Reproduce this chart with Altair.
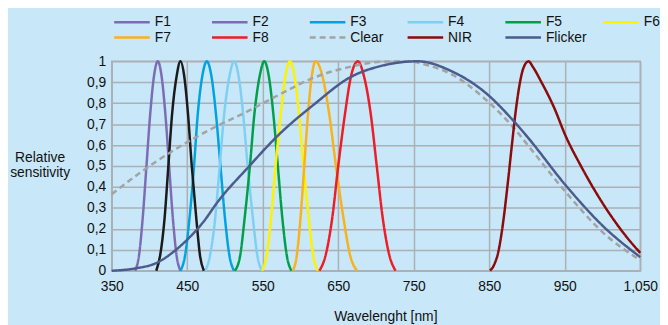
import altair as alt
import pandas as pd

# ---- data ----
series_names = ["F1", "F2", "F3", "F4", "F5", "F6", "F7", "F8", "Clear", "NIR", "Flicker"]
legend_colors = ["#7b6cb5", "#7b6cb5", "#00a3e0", "#7fcff4", "#00a04a", "#fff200",
                 "#f9b21b", "#ee1c25", "#a3a3a3", "#8b0a0a", "#4a5b8c"]
f2_line_color = "#1a1a1a"

band_profile = [0, 0.07, 0.25, 0.5, 0.75, 0.93, 1, 0.93, 0.75, 0.5, 0.25, 0.07, 0]

wl_f1 = [381, 386, 391, 396, 401, 406, 411, 416, 421, 426, 431, 436, 441]
wl_f2 = [409, 414, 420, 425, 430, 436, 441, 446, 451, 456, 462, 467, 472]
wl_f3 = [441, 447, 453, 459, 464, 470, 476, 482, 488, 494, 500, 506, 512]
wl_f4 = [474, 480, 487, 493, 499, 506, 512, 518, 524, 530, 537, 543, 549]
wl_f5 = [513, 520, 526, 533, 539, 546, 552, 558, 564, 570, 576, 582, 588]
wl_f6 = [549, 555, 561, 567, 574, 580, 586, 592, 598, 604, 611, 617, 623]
wl_f7 = [590, 595, 600, 605, 610, 615, 620, 629, 638, 647, 657, 666, 675]
wl_f8 = [625, 633, 642, 650, 659, 667, 676, 684, 693, 701, 709, 718, 726]

wl_nir = [851, 856, 862, 868, 874, 880, 885, 890, 895, 902, 908, 918.6, 936, 951, 971, 1001.5, 1027.6, 1050]
val_nir = [0, 0.025, 0.09, 0.22, 0.40, 0.60, 0.76, 0.885, 0.965, 1.0, 0.972, 0.904, 0.778, 0.645, 0.503, 0.315, 0.181, 0.085]

wl_flicker = [350, 381, 411, 433, 449, 472, 490, 531, 570, 620, 664, 707, 755, 801, 845, 884, 901, 951, 1001, 1050]
val_flicker = [0, 0.011, 0.04, 0.094, 0.145, 0.236, 0.327, 0.495, 0.645, 0.80, 0.92, 0.978, 1.0, 0.951, 0.85, 0.708, 0.637, 0.409, 0.212, 0.065]

wl_clear = [350, 389, 433, 483, 531, 570, 620, 664, 707, 740, 770, 801, 845, 884, 901, 951, 1001, 1050]
val_clear = [0.365, 0.472, 0.577, 0.679, 0.763, 0.837, 0.925, 0.972, 0.998, 1.0, 0.98, 0.936, 0.818, 0.676, 0.6, 0.377, 0.181, 0.05]

x_ticks = [350, 450, 550, 650, 750, 850, 950, 1050]
y_ticks = [0, 0.1, 0.2, 0.3, 0.4, 0.5, 0.6, 0.7, 0.8, 0.9, 1]

# ---- build table ----
rows = []
bands = {"F1": wl_f1, "F2": wl_f2, "F3": wl_f3, "F4": wl_f4, "F5": wl_f5,
         "F6": wl_f6, "F7": wl_f7, "F8": wl_f8}
for name, xs in bands.items():
    for x, v in zip(xs, band_profile):
        rows.append({"series": name, "wl": x, "val": v, "group": "band"})
for name, xs, vs in [("Clear", wl_clear, val_clear), ("NIR", wl_nir, val_nir),
                     ("Flicker", wl_flicker, val_flicker)]:
    for x, v in zip(xs, vs):
        rows.append({"series": name, "wl": x, "val": v, "group": "broad"})
df = pd.DataFrame(rows)

GRID = "#abb0b5"
FONT = "Liberation Sans"

legend = alt.Legend(
    title=None, orient="none", legendX=13.5, legendY=-46.5, direction="horizontal",
    columns=6, symbolType="M-4,0H4", symbolSize=81, symbolStrokeWidth=2.5,
    labelFontSize=14, labelFont=FONT, labelColor="#111111", gridAlign="all",
    columnPadding=11, rowPadding=1.5, labelOffset=16, padding=0,
)

dash_range = [[1, 0]] * 8 + [[6, 4]] + [[1, 0]] * 2

x_enc = alt.X("wl:Q", scale=alt.Scale(domain=[350, 1050], nice=False, zero=False),
              axis=alt.Axis(values=x_ticks, labelExpr="format(datum.value, ',')",
                            title="Wavelenght [nm]", labelFlush=False,
                            ticks=False, labelPadding=9, titlePadding=16,
                            titleX=277))
y_enc = alt.Y("val:Q", scale=alt.Scale(domain=[0, 1], nice=False),
              axis=alt.Axis(values=y_ticks, ticks=False, labelPadding=6,
                            labelExpr="replace(format(datum.value, '~g'), '.', ',')",
                            title=["Relative", "sensitivity"], titleAngle=0,
                            titleAlign="center", titleBaseline="middle",
                            titleX=-73, titleY=97))
color_enc = alt.Color("series:N", scale=alt.Scale(domain=series_names, range=legend_colors),
                      legend=legend)
dash_enc = alt.StrokeDash("series:N", scale=alt.Scale(domain=series_names, range=dash_range),
                          legend=legend)

base = alt.Chart(df)

bands_layer = base.transform_filter(
    "datum.group == 'band' && datum.series != 'F2'"
).mark_line(strokeWidth=2.5, interpolate="monotone").encode(
    x=x_enc, y=y_enc, color=color_enc, strokeDash=dash_enc)

f2_layer = base.transform_filter("datum.series == 'F2'").mark_line(
    strokeWidth=2.5, interpolate="monotone", color=f2_line_color).encode(x=x_enc, y=y_enc)

broad_layer = base.transform_filter("datum.group == 'broad'").mark_line(
    strokeWidth=2.5, interpolate="monotone").encode(
    x=x_enc, y=y_enc, color=color_enc, strokeDash=dash_enc)

chart = alt.layer(bands_layer, f2_layer, broad_layer).properties(
    width=535, height=212,
    autosize=alt.AutoSizeParams(type="none"),
    padding={"left": 105, "top": 52, "right": 20, "bottom": 53},
    background="#c8e7f8",
).configure_view(stroke=GRID, strokeWidth=1.5).configure_axis(
    gridColor=GRID, gridWidth=1.5, domainColor=GRID, domainWidth=1.5,
    labelFont=FONT, labelFontSize=14, labelColor="#111111",
    titleFont=FONT, titleFontSize=14, titleFontWeight="normal", titleColor="#111111",
)

chart.save("out.html", embed_options={"renderer": "svg", "actions": False})
